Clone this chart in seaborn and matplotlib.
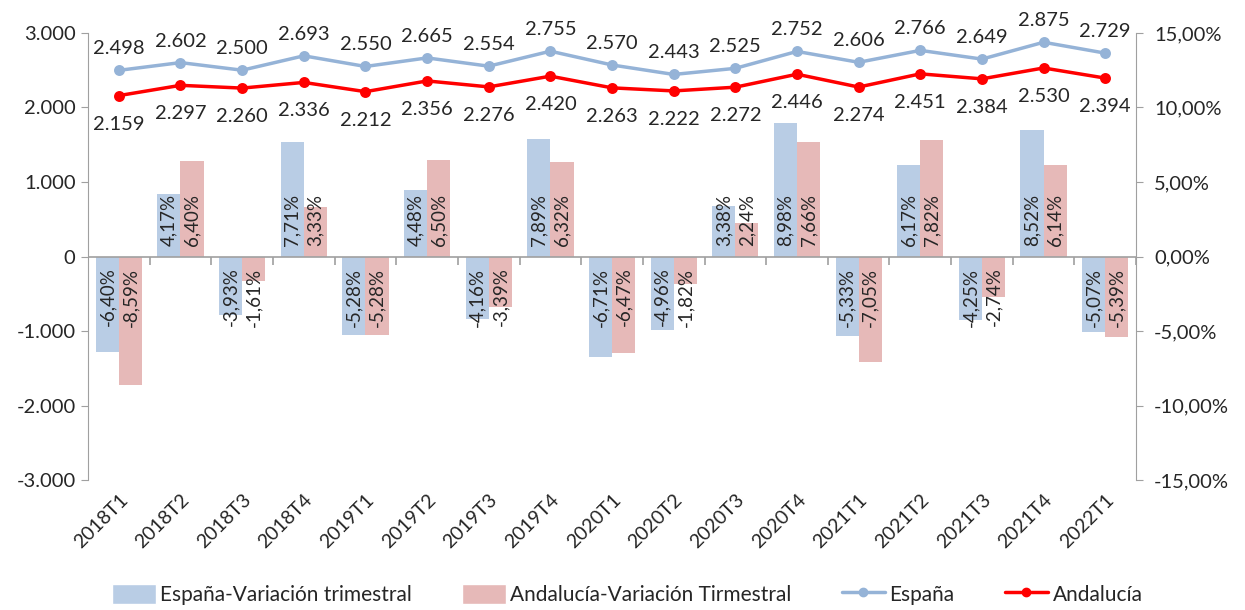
import numpy as np
import pandas as pd
import matplotlib
matplotlib.use("Agg")
import matplotlib.pyplot as plt
from matplotlib.patches import Patch
from matplotlib.lines import Line2D
from matplotlib.ticker import FuncFormatter, MultipleLocator
import seaborn as sns

# Datos
periodos = ["2018T1", "2018T2", "2018T3", "2018T4", "2019T1", "2019T2", "2019T3", "2019T4",
            "2020T1", "2020T2", "2020T3", "2020T4", "2021T1", "2021T2", "2021T3", "2021T4", "2022T1"]
espana = [2498, 2602, 2500, 2693, 2550, 2665, 2554, 2755, 2570, 2443, 2525, 2752,
          2606, 2766, 2649, 2875, 2729]
andalucia = [2159, 2297, 2260, 2336, 2212, 2356, 2276, 2420, 2263, 2222, 2272, 2446,
             2274, 2451, 2384, 2530, 2394]
var_espana = [-6.40, 4.17, -3.93, 7.71, -5.28, 4.48, -4.16, 7.89, -6.71, -4.96, 3.38, 8.98,
              -5.33, 6.17, -4.25, 8.52, -5.07]
var_andalucia = [-8.59, 6.40, -1.61, 3.33, -5.28, 6.50, -3.39, 6.32, -6.47, -1.82, 2.24, 7.66,
                 -7.05, 7.82, -2.74, 6.14, -5.39]

serie_bar_es = "España-Variación trimestral"
serie_bar_an = "Andalucía-Variación Tirmestral"

bars_df = pd.DataFrame({
    "periodo": periodos * 2,
    "variacion": var_espana + var_andalucia,
    "serie": [serie_bar_es] * len(periodos) + [serie_bar_an] * len(periodos),
})
lines_df = pd.DataFrame({
    "periodo": periodos * 2,
    "ocupados": espana + andalucia,
    "serie": ["España"] * len(periodos) + ["Andalucía"] * len(periodos),
})

c_bar_es = "#B9CDE5"
c_bar_an = "#E6B9B8"
c_line_es = "#95B3D7"
c_line_an = "#FF0000"
c_axis = "#A0A0A0"

sns.set_style("white")
plt.rcParams["font.family"] = ["Lato", "DejaVu Sans"]

fig = plt.figure(figsize=(12.45, 6.1), dpi=100)
ax = fig.add_axes([0.0707, 0.213, 0.8418, 0.733])
ax2 = ax.twinx()

# Barras (eje de porcentajes, a la derecha)
sns.barplot(data=bars_df, x="periodo", y="variacion", hue="serie",
            palette=[c_bar_es, c_bar_an], width=0.75, saturation=1,
            ax=ax, legend=False, linewidth=0)

for p in ax.patches:
    h = p.get_height()
    if h == 0:
        continue
    xc = p.get_x() + p.get_width() / 2
    val = f"{h:.2f}".replace(".", ",") + "%"
    if h > 0:
        ax.annotate(val, (xc, 0), xytext=(0, 11), textcoords="offset pixels",
                    rotation=90, ha="center", va="bottom", fontsize=13.5)
    else:
        ax.annotate(val, (xc, 0), xytext=(0, -11), textcoords="offset pixels",
                    rotation=90, ha="center", va="top", fontsize=13.5)

# Líneas (eje de ocupados, a la izquierda)
sns.pointplot(data=lines_df, x="periodo", y="ocupados", hue="serie",
              palette=[c_line_es, c_line_an], markers="o", markersize=6,
              linewidth=2.5, errorbar=None, ax=ax2, legend=False)

for i, v in enumerate(espana):
    ax2.annotate(f"{v:,}".replace(",", "."), (i, v), xytext=(0, 13),
                 textcoords="offset pixels", ha="center", va="bottom", fontsize=14.5)
for i, v in enumerate(andalucia):
    ax2.annotate(f"{v:,}".replace(",", "."), (i, v), xytext=(0, -20),
                 textcoords="offset pixels", ha="center", va="top", fontsize=14.5)

# Ejes
ax.set_ylim(-15, 15)
ax2.set_ylim(-3000, 3000)
ax.set_xlim(-0.5, len(periodos) - 0.5)
ax.yaxis.tick_right()
ax2.yaxis.tick_left()
ax.yaxis.set_major_locator(MultipleLocator(5))
ax2.yaxis.set_major_locator(MultipleLocator(1000))
ax.yaxis.set_major_formatter(FuncFormatter(lambda v, _: f"{v:.2f}".replace(".", ",") + "%"))
ax2.yaxis.set_major_formatter(FuncFormatter(lambda v, _: f"{int(v):,}".replace(",", ".")))
ax.tick_params(axis="y", labelsize=14.5, length=5, color=c_axis, pad=8)
ax2.tick_params(axis="y", labelsize=14.5, length=5, color=c_axis, pad=4)
ax.set_xlabel("")
ax.set_ylabel("")
ax2.set_xlabel("")
ax2.set_ylabel("")

ax.set_xticks(range(len(periodos)))
ax.set_xticklabels(periodos, rotation=45, ha="right", rotation_mode="anchor", fontsize=14)
ax.tick_params(axis="x", length=0, pad=8)

for s in ["top", "bottom"]:
    ax.spines[s].set_visible(False)
for s in ["left", "right"]:
    ax.spines[s].set_color(c_axis)
for s in ax2.spines.values():
    s.set_visible(False)

ax.axhline(0, color=c_axis, linewidth=1.2, zorder=1)
ax.vlines(np.arange(-0.5, len(periodos), 1), 0, -0.6, color=c_axis, linewidth=1.2)

handles = [
    Patch(facecolor=c_bar_es, label=serie_bar_es),
    Patch(facecolor=c_bar_an, label=serie_bar_an),
    Line2D([], [], color=c_line_es, marker="o", markersize=6, linewidth=2.5, label="España"),
    Line2D([], [], color=c_line_an, marker="o", markersize=6, linewidth=2.5, label="Andalucía"),
]
fig.legend(handles=handles, loc="lower center", ncol=4, frameon=False, fontsize=15,
           bbox_to_anchor=(0.504, -0.022), handlelength=2.1, handleheight=1.1,
           handletextpad=0.2, columnspacing=2.4)

fig.savefig("out.png", dpi=100)
